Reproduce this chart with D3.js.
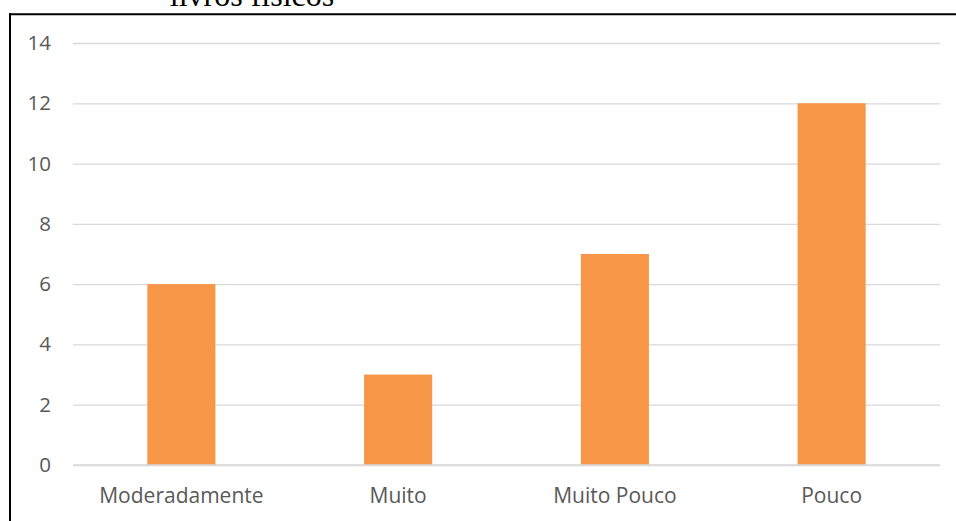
<!DOCTYPE html>
<html><head><meta charset="utf-8">
<script src="https://cdn.jsdelivr.net/npm/d3@7"></script>
<style>html,body{margin:0;padding:0;background:#fff;overflow:hidden}</style>
</head><body>
<svg id="c" width="956" height="521"></svg>
<script>
const categories = ["Moderadamente", "Muito", "Muito Pouco", "Pouco"];
const values = [6, 3, 7, 12];
const yTicks = [0, 2, 4, 6, 8, 10, 12, 14];
const titleText = "livros físicos";

(function () {
const svg = d3.select("#c");
const W = 956, H = 521;
const mL = 73, mR = 940, mT = 43, mB = 465;

const x = d3.scaleBand().domain(categories).range([mL, mR]).paddingInner(0.686).paddingOuter(0.343);
const y = d3.scaleLinear().domain([0, 14]).range([mB, mT]);

// title (clipped at top, as in the reference)
svg.append("text").attr("x", 252).attr("y", 6).attr("text-anchor", "middle")
  .attr("font-family", "'Liberation Serif', 'Times New Roman', serif").attr("font-size", 32)
  .attr("fill", "#000").text(titleText);

// frame
svg.append("line").attr("x1", 9).attr("x2", W).attr("y1", 14.3).attr("y2", 14.3).attr("stroke", "#000").attr("stroke-width", 2);
svg.append("line").attr("x1", 10).attr("x2", 10).attr("y1", 13.3).attr("y2", H).attr("stroke", "#000").attr("stroke-width", 2);

// gridlines
const yAxis = d3.axisLeft(y).tickValues(yTicks).tickSize(-(mR - mL)).tickPadding(22).tickFormat(d3.format("d"));
const ga = svg.append("g").attr("transform", `translate(${mL},0)`).call(yAxis);
ga.select(".domain").remove();
ga.selectAll(".tick line").attr("stroke", "#D9D9D9").attr("stroke-width", 1.3);
ga.selectAll(".tick text").attr("font-family", "'Open Sans', sans-serif").attr("font-size", 20.5).attr("fill", "#595959");

// bars
svg.append("g").selectAll("rect").data(values).join("rect")
  .attr("x", (d, i) => x(categories[i]))
  .attr("width", x.bandwidth())
  .attr("y", d => y(d))
  .attr("height", d => y(0) - y(d))
  .attr("fill", "#F79646");

// baseline over bars
svg.append("line").attr("x1", mL).attr("x2", mR).attr("y1", y(0)).attr("y2", y(0)).attr("stroke", "#D9D9D9").attr("stroke-width", 1.3);

// x axis labels
const xAxis = d3.axisBottom(x).tickSize(0).tickPadding(23);
const gx = svg.append("g").attr("transform", `translate(0,${mB})`).call(xAxis);
gx.select(".domain").remove();
gx.selectAll(".tick text").attr("font-family", "'Open Sans', sans-serif").attr("font-size", 21).attr("fill", "#595959");
})();
</script>
</body></html>
